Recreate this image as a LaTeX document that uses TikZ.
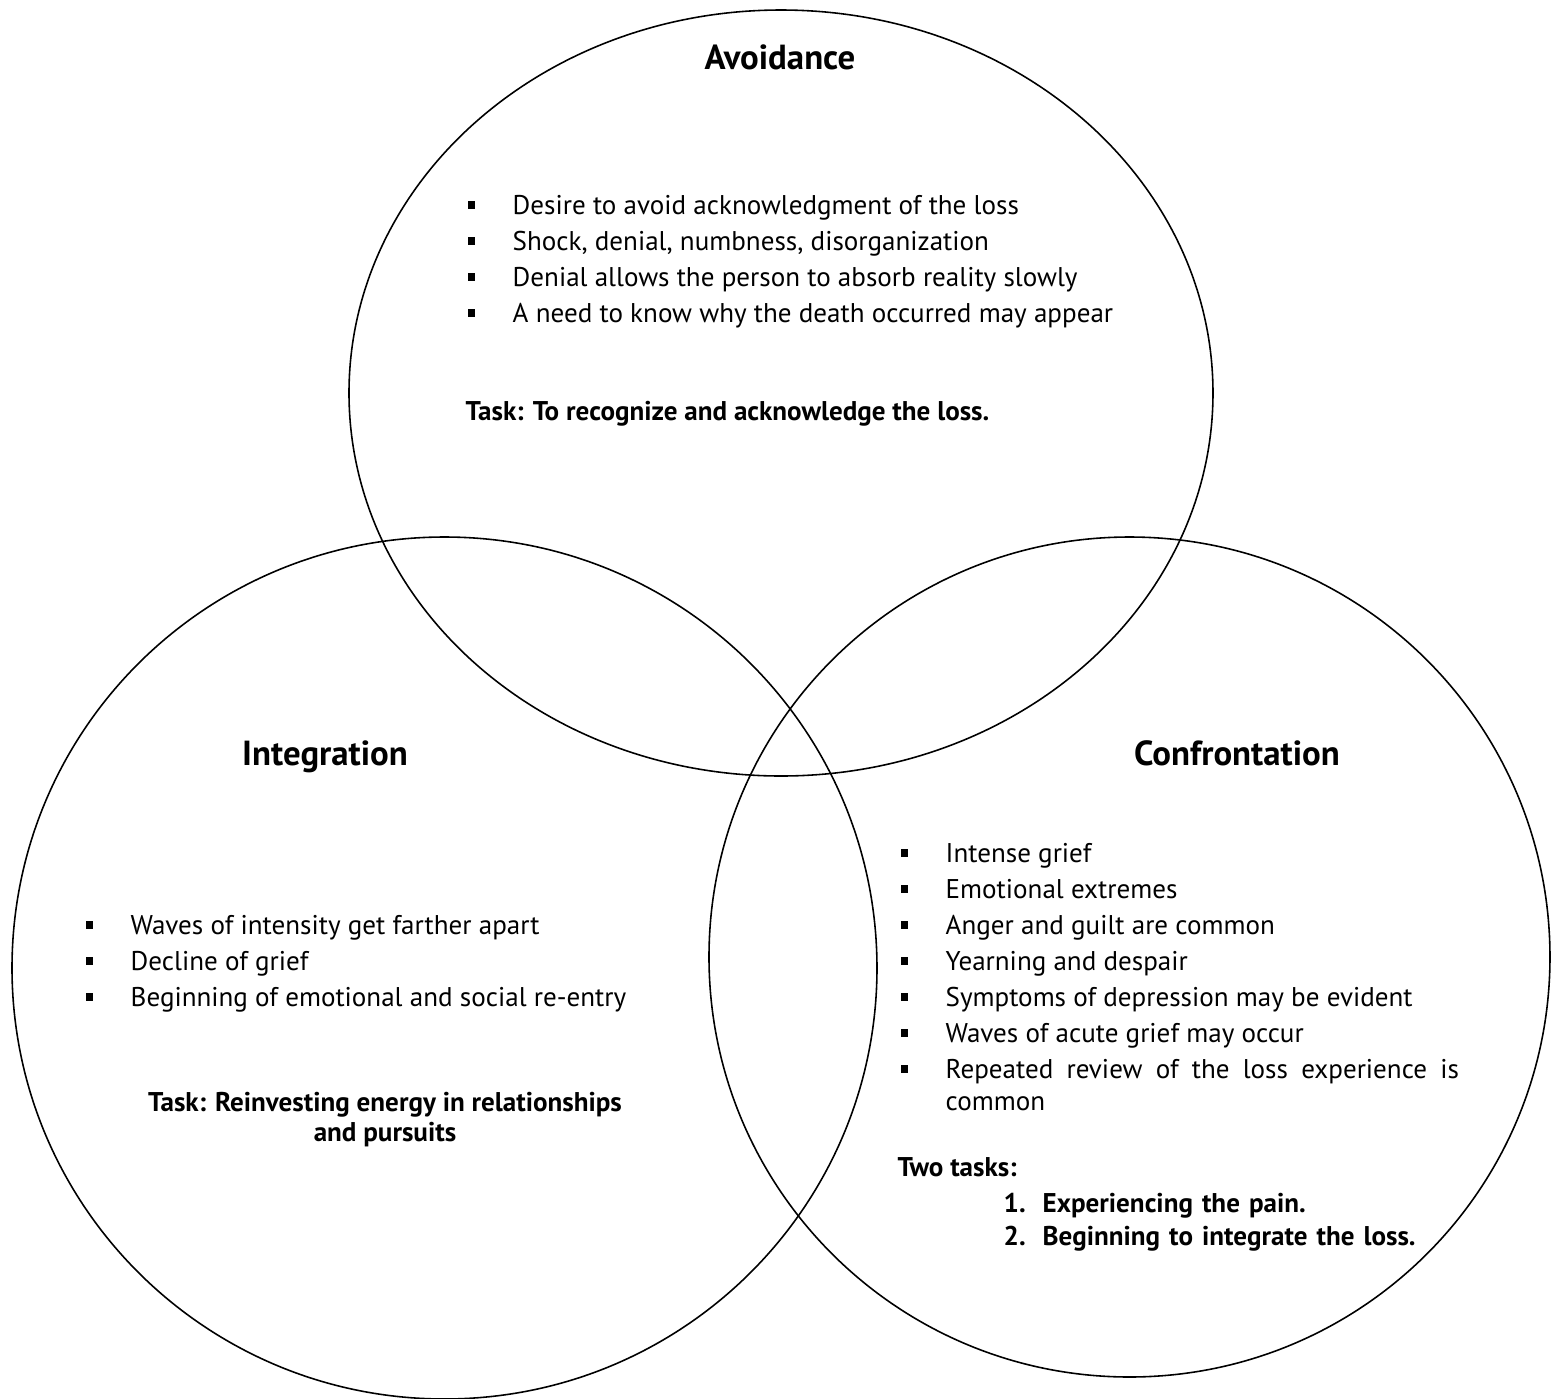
\documentclass[tikz,border=0pt]{standalone}
\usepackage{fontspec}
\setmainfont{PT Sans}
\usetikzlibrary{positioning}
\newlength{\itemwd}
\setlength{\itemwd}{6.5cm}
\newcommand{\sqbul}{\rule[0.2em]{0.075cm}{0.075cm}}
\newcommand{\bitem}[1]{\par\noindent\makebox[0.45cm][l]{\sqbul}%
  \parbox[t]{\itemwd}{\rightskip=0pt\parfillskip=0pt plus 1fil%
    \spaceskip=\fontdimen2\font plus \fontdimen2\font\relax #1}}
\newcommand{\nitem}[2]{\par\noindent\makebox[0.39cm][l]{#1}#2}

\begin{document}
\begin{tikzpicture}[x=0.01cm, y=-0.01cm,
    ring/.style={line width=0.45pt},
    title/.style={inner sep=0pt, font=\fontsize{9.9}{11}\selectfont\bfseries},
    listbox/.style={inner sep=0pt, anchor=base west, text width=7cm, align=left,
      font=\fontsize{7.7}{9.1}\selectfont\setlength{\parskip}{0.04cm}},
    taskbox/.style={inner sep=0pt, font=\fontsize{7.7}{8.5}\selectfont\bfseries}]
  \useasboundingbox (0,0) rectangle (1559,1399);
  % the three circles
  \draw[ring] (781,393) ellipse [x radius=432, y radius=383];
  \draw[ring] (444.5,968) ellipse [x radius=432.5, y radius=431];
  \draw[ring] (1129.5,957) ellipse [x radius=420.5, y radius=420];
  % avoidance
  \node[title, anchor=base] (avoid) at (780,69) {Avoidance};
  \node[listbox] (avoidlist) at (467,178) {%
    \bitem{Desire to avoid acknowledgment of the loss}%
    \bitem{Shock, denial, numbness, disorganization}%
    \bitem{Denial allows the person to absorb reality slowly}%
    \bitem{A need to know why the death occurred may appear}};
  \node[taskbox, anchor=base west] (avoidtask) at (465,420)
    {Task: To recognize and acknowledge the loss.};
  % integration
  \node[title, anchor=base] (integ) at (325,765) {Integration};
  \node[listbox] (integlist) at (85,898) {%
    \bitem{Waves of intensity get farther apart}%
    \bitem{Decline of grief}%
    \bitem{Beginning of emotional and social re-entry}};
  \node[taskbox, anchor=base, align=center] (integtask) at (385,1141)
    {Task: Reinvesting energy in relationships\\ and pursuits};
  % confrontation
  \node[title, anchor=base] (confr) at (1237,765) {Confrontation};
  \node[listbox, execute at begin node={\setlength{\itemwd}{5.13cm}}]
    (confrlist) at (900,826) {%
    \bitem{Intense grief}%
    \bitem{Emotional extremes}%
    \bitem{Anger and guilt are common}%
    \bitem{Yearning and despair}%
    \bitem{Symptoms of depression may be evident}%
    \bitem{Waves of acute grief may occur}%
    \bitem{Repeated review of the loss experience is common}};
  \node[taskbox, anchor=base west] (confrtask) at (897,1176) {Two tasks:};
  \node[taskbox, anchor=base west, text width=5cm, align=left,
    font=\fontsize{7.7}{9.3}\selectfont\bfseries] (confrsteps) at (1003,1180) {%
    \nitem{1.}{Experiencing the pain.}%
    \nitem{2.}{Beginning to integrate the loss.}};
\end{tikzpicture}
\end{document}
